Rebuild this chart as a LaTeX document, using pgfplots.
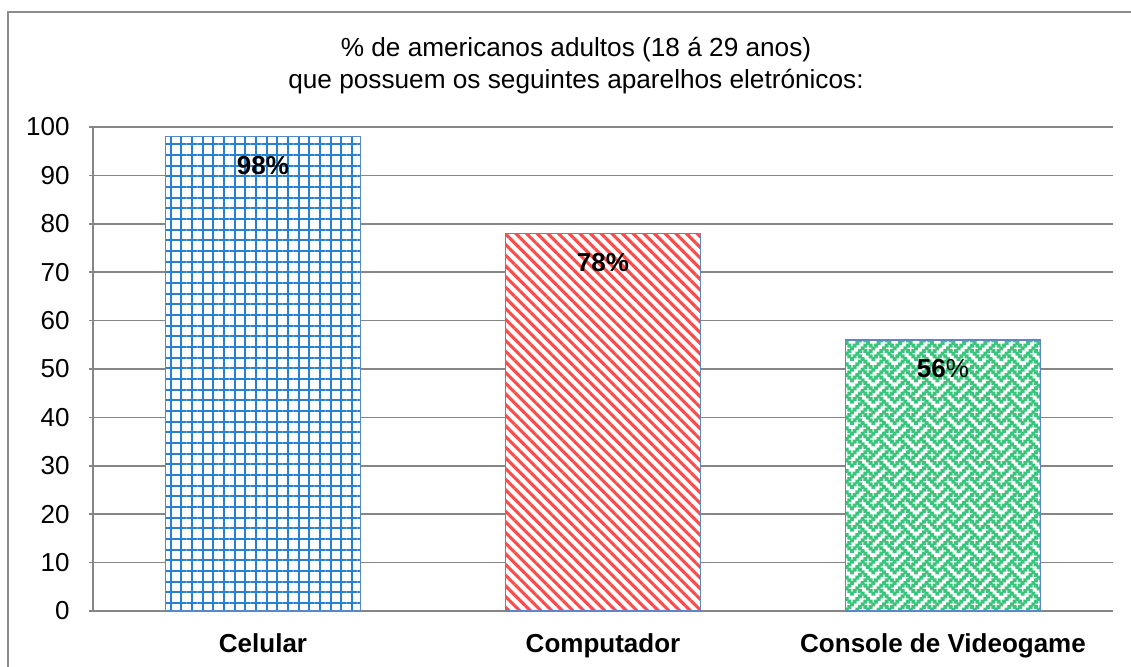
\documentclass[border=0pt]{standalone}
\usepackage{fontspec}
\setmainfont{Liberation Sans}
\usepackage{pgfplots}
\pgfplotsset{compat=1.18}
\usetikzlibrary{patterns.meta}
\definecolor{gridgray}{HTML}{868686}
\definecolor{framegray}{HTML}{8C8C8C}
\definecolor{barborder}{HTML}{5B87C5}
\definecolor{bluec}{HTML}{2A80D0}
\definecolor{redc}{HTML}{FF4A4A}
\definecolor{greenc}{HTML}{3CC47C}
\newcommand{\wv}[2]{\pgfpathrectangle{\pgfpoint{#1*1.3333pt-0.3pt}{(7-#2)*1.3333pt-0.3pt}}{\pgfpoint{1.9333pt}{1.9333pt}}}
\pgfdeclarepattern{
  name=weave,
  type=uncolored,
  bottom left={\pgfpoint{-0.5pt}{-0.5pt}},
  top right={\pgfpoint{11.2pt}{11.2pt}},
  tile size={\pgfpoint{10.6667pt}{10.6667pt}},
  code={
    \wv{3}{0}\wv{7}{0}
    \wv{2}{1}\wv{4}{1}\wv{6}{1}
    \wv{1}{2}\wv{5}{2}
    \wv{0}{3}\wv{2}{3}\wv{6}{3}
    \wv{3}{4}\wv{7}{4}
    \wv{2}{5}\wv{4}{5}
    \wv{1}{6}\wv{5}{6}
    \wv{0}{7}\wv{4}{7}\wv{6}{7}
    \pgfusepath{fill}
  }
}
\begin{document}
\fontsize{13}{15.6}\selectfont
\begin{tikzpicture}[x=1pt,y=1pt]
\path[use as bounding box] (0,0) rectangle (565.5,333.5);
\draw[framegray, line width=0.8pt] (4,-2) -- (4,327.5) -- (567,327.5);
\node[align=center, font=\fontsize{13.1}{16}\selectfont] at (288,300.5) {\% de americanos adultos (18 á 29 anos)\\que possuem os seguintes aparelhos eletrónicos:};
\begin{axis}[
  at={(46.5pt,28pt)}, anchor=south west,
  scale only axis, width=510pt, height=242pt,
  xmin=-0.5, xmax=2.5, ymin=0, ymax=100,
  ytick={0,10,...,100},
  xtick={0,1,2},
  xticklabels={Celular,Computador,Console de Videogame},
  axis x line*=bottom, axis y line*=left,
  axis line style={gridgray, line width=0.75pt},
  ymajorgrids, major grid style={gridgray, line width=0.75pt},
  x tick style={draw=none},
  y tick style={gridgray, line width=0.75pt},
  tick align=outside, major tick length=2pt,
  /pgf/number format/assume math mode=true,
  ticklabel style={font=\fontsize{13}{15.6}\selectfont},
  yticklabel style={anchor=east, inner sep=0pt, xshift=-9.5pt},
  xticklabel style={font=\fontsize{13}{15.6}\selectfont\bfseries, anchor=base, yshift=-19pt},
  ybar, bar width=97.5pt, bar shift=0pt,
  point meta=explicit symbolic,
  nodes near coords,
  every node near coord/.append style={font=\fontsize{13}{15.6}\selectfont\bfseries, anchor=center, yshift=-14.5pt, black},
  clip=false,
]
\addplot[draw=barborder, line width=0.6pt, preaction={fill=white}, pattern={Hatch[distance=5.3333pt, line width=1.1pt]}, pattern color=bluec] coordinates {(0,98) [98\%]};
\addplot[draw=barborder, line width=0.6pt, preaction={fill=white}, pattern={Lines[angle=-45, distance=3.771pt, line width=1.55pt]}, pattern color=redc] coordinates {(1,78) [78\%]};
\addplot[draw=barborder, line width=0.6pt, preaction={fill=white}, pattern=weave, pattern color=greenc] coordinates {(2,56) [56{\mdseries\%}]};
\end{axis}
\end{tikzpicture}
\end{document}
